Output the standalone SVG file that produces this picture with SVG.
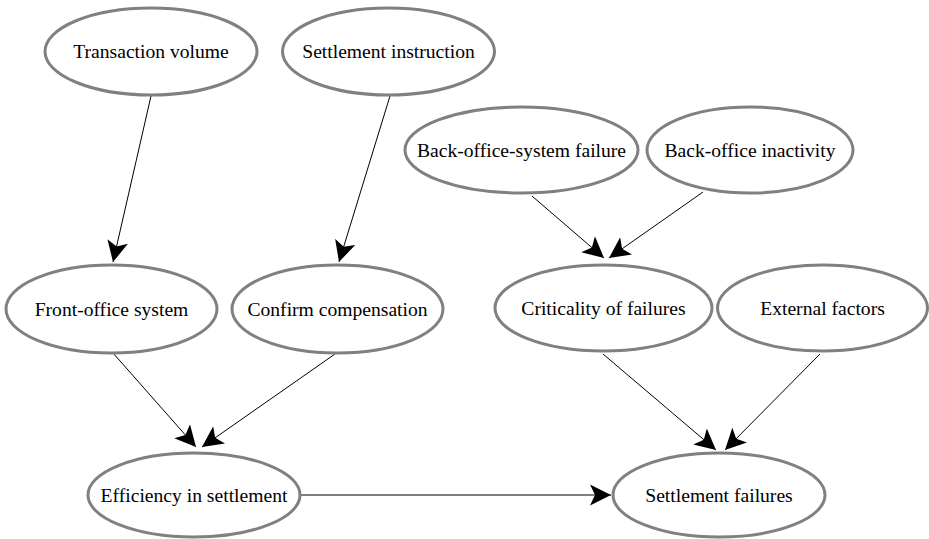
<svg xmlns="http://www.w3.org/2000/svg" width="929" height="539" viewBox="0 0 929 539">
<style>
.n ellipse{fill:#fff;stroke:#808080;stroke-width:3}
.n text{font-family:"Liberation Serif","DejaVu Serif",serif;font-size:19.6px;fill:#000;text-anchor:middle}
.e line{stroke:#000;stroke-width:1;marker-end:url(#ah)}
</style>
<defs>
<marker id="ah" markerUnits="userSpaceOnUse" markerWidth="22" markerHeight="22" refX="21" refY="11" orient="auto" viewBox="0 0 22 22">
<path d="M0,0.5 L21,11 L0,21.5 L5,11 z" fill="#000"/>
</marker>
</defs>
<rect width="929" height="539" fill="#fff"/>
<g id="edges" class="e">
<line x1="151" y1="96" x2="113" y2="262"/>
<line x1="390" y1="96" x2="339" y2="262"/>
<line x1="532" y1="196" x2="604" y2="258"/>
<line x1="703" y1="192" x2="609" y2="258"/>
<line x1="113" y1="353" x2="196" y2="447"/>
<line x1="335" y1="354" x2="202" y2="447"/>
<line x1="603" y1="354" x2="716" y2="450"/>
<line x1="820" y1="354" x2="725" y2="450"/>
<line x1="300" y1="495" x2="611" y2="495"/>
</g>
<g id="n1" class="n"><ellipse cx="151" cy="51.5" rx="106" ry="43.5"/><text x="151" y="58">Transaction volume</text></g>
<g id="n2" class="n"><ellipse cx="388.5" cy="51.5" rx="106" ry="43.5"/><text x="388.5" y="58">Settlement instruction</text></g>
<g id="n3" class="n"><ellipse cx="521.5" cy="150" rx="116.5" ry="43"/><text x="521.5" y="156.5">Back-office-system failure</text></g>
<g id="n4" class="n"><ellipse cx="750" cy="150" rx="103" ry="43"/><text x="750" y="156.5">Back-office inactivity</text></g>
<g id="n5" class="n"><ellipse cx="111.5" cy="309" rx="105.5" ry="44"/><text x="111.5" y="315.5">Front-office system</text></g>
<g id="n6" class="n"><ellipse cx="337.5" cy="309" rx="105.5" ry="44"/><text x="337.5" y="315.5">Confirm compensation</text></g>
<g id="n7" class="n"><ellipse cx="603.5" cy="308" rx="108.5" ry="43"/><text x="603.5" y="314.5">Criticality of failures</text></g>
<g id="n8" class="n"><ellipse cx="822.5" cy="308" rx="105" ry="43"/><text x="822.5" y="314.5">External factors</text></g>
<g id="n9" class="n"><ellipse cx="194" cy="495" rx="106" ry="42"/><text x="194" y="501.5">Efficiency in settlement</text></g>
<g id="n10" class="n"><ellipse cx="719" cy="495" rx="106" ry="42"/><text x="719" y="501.5">Settlement failures</text></g>
</svg>
